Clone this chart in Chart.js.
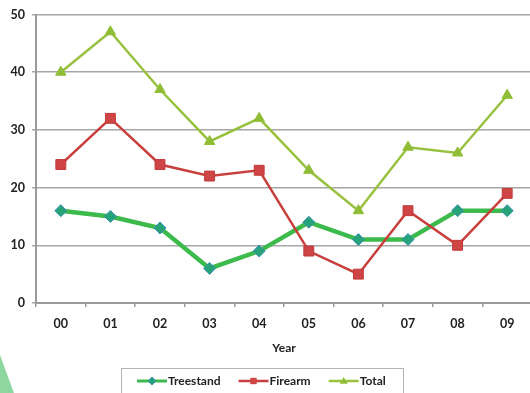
<!DOCTYPE html>
<html>
<head>
<meta charset="utf-8">
<script src="https://cdn.jsdelivr.net/npm/chart.js@4/dist/chart.umd.min.js"></script>
<style>
  html, body { margin: 0; padding: 0; background: #fff; overflow: hidden; }
  #wrap { position: relative; width: 530px; height: 393px; overflow: hidden; }
  #c { position: absolute; left: 0; top: 0; }
  #corner {
    position: absolute; left: 0; top: 355px; width: 14px; height: 38px;
    background: #8fd7a0; clip-path: polygon(0 0, 100% 100%, 0 100%);
  }
</style>
</head>
<body>
<div id="wrap">
  <canvas id="c" width="532" height="393"></canvas>
  <div id="corner"></div>
</div>
<script>
// Yearly counts by category
const years = ['00', '01', '02', '03', '04', '05', '06', '07', '08', '09'];
const treestand = [16, 15, 13, 6, 9, 14, 11, 11, 16, 16];
const firearm = [24, 32, 24, 22, 23, 9, 5, 16, 10, 19];
const total = [40, 47, 37, 28, 32, 23, 16, 27, 26, 36];
const seriesNames = ['Treestand', 'Firearm', 'Total'];

const FONT = 'Lato, "Open Sans", sans-serif';

function drawMarker(ctx, style, x, y, r, fill, stroke) {
  ctx.save();
  ctx.beginPath();
  if (style === 'rectRot') {
    ctx.moveTo(x, y - r); ctx.lineTo(x + r, y); ctx.lineTo(x, y + r); ctx.lineTo(x - r, y);
  } else if (style === 'rect') {
    const s = r * 0.8;
    ctx.rect(x - s, y - s, 2 * s, 2 * s);
  } else {
    ctx.moveTo(x, y - r); ctx.lineTo(x + r, y + r * 0.7); ctx.lineTo(x - r, y + r * 0.7);
  }
  ctx.closePath();
  ctx.fillStyle = fill; ctx.fill();
  if (stroke) { ctx.strokeStyle = stroke; ctx.lineWidth = 1; ctx.stroke(); }
  ctx.restore();
}

// Boxed legend with a line sample and marker per series
const boxLegend = {
  id: 'boxLegend',
  afterDraw(chart) {
    const ctx = chart.ctx;
    ctx.save();
    ctx.strokeStyle = '#b5b5b5';
    ctx.lineWidth = 1;
    ctx.strokeRect(121.5, 368.5, 282, 40);
    ctx.font = 'bold 12px ' + FONT;
    ctx.textBaseline = 'middle';
    ctx.fillStyle = '#222';
    let x = 137;
    const y = 381;
    chart.data.datasets.forEach(ds => {
      ctx.strokeStyle = ds.borderColor;
      ctx.lineWidth = Math.min(ds.borderWidth, 3);
      ctx.beginPath(); ctx.moveTo(x, y); ctx.lineTo(x + 30, y); ctx.stroke();
      drawMarker(ctx, ds.pointStyle, x + 15, y, 4, ds.pointBackgroundColor, ds.legendMarkerStroke);
      ctx.fillStyle = '#222';
      ctx.fillText(ds.label, x + 31, y);
      x += 31 + ctx.measureText(ds.label).width + 18;
    });
    ctx.restore();
  }
};

new Chart(document.getElementById('c'), {
  type: 'line',
  data: {
    labels: years,
    datasets: [
      {
        label: seriesNames[0], data: treestand, order: 3,
        borderColor: '#3dba4c', borderWidth: 4.5,
        pointStyle: 'rectRot', pointRadius: 6,
        pointBackgroundColor: '#27a37a', pointBorderColor: '#3a8fb5', pointBorderWidth: 1,
        legendMarkerStroke: '#3a8fb5'
      },
      {
        label: seriesNames[1], data: firearm, order: 2,
        borderColor: '#c8403d', borderWidth: 2.5,
        pointStyle: 'rect', pointRadius: 7,
        pointBackgroundColor: '#cf4444', pointBorderColor: '#c23a3a', pointBorderWidth: 1
      },
      {
        label: seriesNames[2], data: total, order: 1,
        borderColor: '#98c13e', borderWidth: 2.5,
        pointStyle: 'triangle', pointRadius: 6,
        pointBackgroundColor: '#8fbd35', pointBorderColor: '#8fbd35', pointBorderWidth: 1
      }
    ]
  },
  options: {
    responsive: false,
    animation: false,
    devicePixelRatio: 1,
    layout: { autoPadding: false, padding: { top: 14, left: 0, right: 0, bottom: 0 } },
    plugins: { legend: { display: false }, tooltip: { enabled: false } },
    elements: { line: { tension: 0 } },
    scales: {
      x: {
        offset: true,
        grid: { offset: true, drawOnChartArea: false, drawTicks: true, tickLength: 4, color: '#999', lineWidth: 1.5 },
        border: { color: '#9a9a9a', width: 2 },
        ticks: { padding: 9, color: '#222', font: { family: FONT, size: 12.5, weight: 'bold' } },
        title: { display: true, text: 'Year', color: '#222', padding: { top: 0, bottom: 37.8 },
                 font: { family: FONT, size: 12, weight: 'bold' } },
        afterFit(scale) { scale.height = 90; scale.paddingLeft = 0; scale.paddingRight = 0; }
      },
      y: {
        min: 0, max: 50,
        ticks: { stepSize: 10, padding: 7, color: '#222', font: { family: FONT, size: 12.5, weight: 'bold' } },
        grid: { color: '#a6a6a6', lineWidth: 1.5, tickLength: 4 },
        border: { color: '#9a9a9a', width: 2 },
        afterFit(scale) { scale.width = 36; }
      }
    }
  },
  plugins: [boxLegend]
});
</script>
</body>
</html>
